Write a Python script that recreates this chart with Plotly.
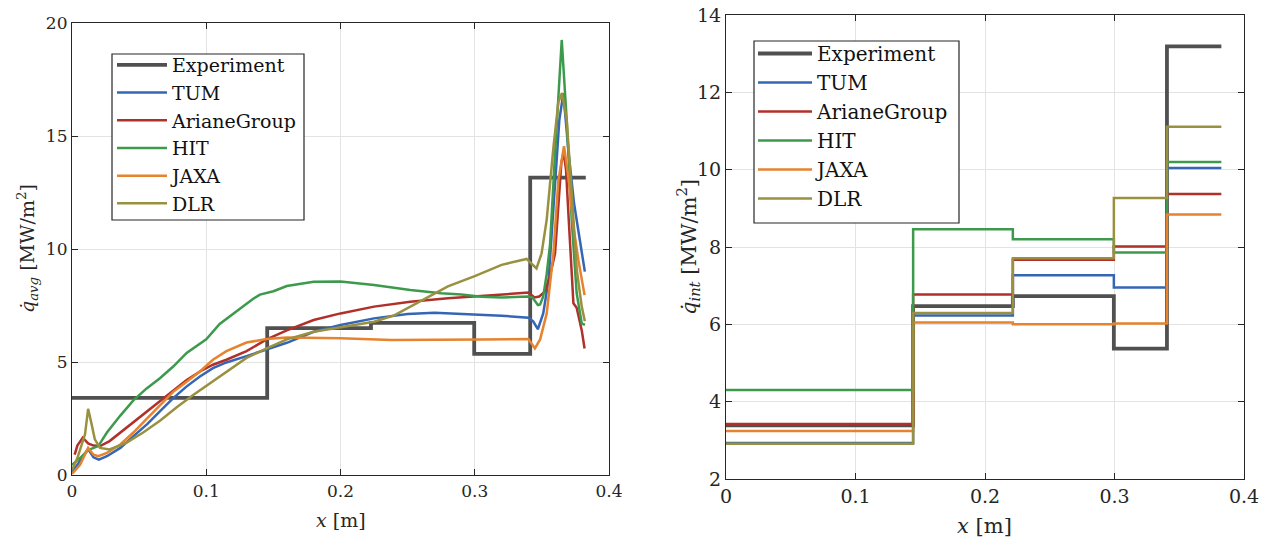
import plotly.graph_objects as go

# ---------------- data: left plot (local average heat flux) ----------------
exp_x = [0, 0.1454, 0.2227, 0.2996, 0.3413, 0.3827]
exp_y = [3.41, 6.50, 6.73, 5.36, 13.16, 13.16]

tum_x = [0, 0.006, 0.012, 0.016, 0.02, 0.026, 0.036, 0.046, 0.056, 0.066, 0.075, 0.085, 0.095,
         0.105, 0.115, 0.13, 0.145, 0.16, 0.18, 0.2, 0.225, 0.25, 0.27, 0.3, 0.32, 0.34, 0.3435,
         0.347, 0.351, 0.355, 0.359, 0.363, 0.366, 0.370, 0.374, 0.378, 0.382]
tum_y = [0.1, 0.6, 1.15, 0.78, 0.68, 0.83, 1.2, 1.73, 2.25, 2.85, 3.38, 3.9, 4.35,
         4.73, 4.98, 5.26, 5.55, 5.85, 6.34, 6.64, 6.93, 7.12, 7.18, 7.1, 7.05, 6.96, 6.8,
         6.45, 7.15, 8.63, 12.0, 15.7, 16.9, 14.2, 12.0, 10.5, 9.0]

ag_x = [0.002, 0.004, 0.008, 0.012, 0.016, 0.021, 0.028, 0.0407, 0.053, 0.0655, 0.0754, 0.0854,
        0.0953, 0.105, 0.115, 0.13, 0.145, 0.16, 0.18, 0.2, 0.225, 0.252, 0.28, 0.305, 0.325,
        0.34, 0.3445, 0.348, 0.352, 0.356, 0.3598, 0.3623, 0.3645, 0.3662, 0.368, 0.370, 0.3735,
        0.3759, 0.3797, 0.3818]
ag_y = [0.9, 1.3, 1.65, 1.4, 1.3, 1.28, 1.5, 2.1, 2.7, 3.3, 3.75, 4.2,
        4.58, 4.88, 5.1, 5.48, 6.0, 6.4, 6.86, 7.15, 7.45, 7.67, 7.82, 7.92, 8.0,
        8.07, 7.86, 7.9, 8.1, 8.8, 9.8, 12.0, 13.8, 14.3, 13.5, 11.3, 7.6,
        7.4, 6.4, 5.6]

hit_x = [0, 0.006, 0.012, 0.0196, 0.026, 0.036, 0.0457, 0.0556, 0.0655, 0.0754, 0.0854, 0.0953,
         0.1, 0.11, 0.125, 0.135, 0.14, 0.15, 0.16, 0.18, 0.2, 0.225, 0.252, 0.275, 0.29, 0.305,
         0.32, 0.34, 0.343, 0.347, 0.3487, 0.351, 0.3536, 0.3561, 0.3598, 0.3648, 0.3685, 0.3722,
         0.3759, 0.3797, 0.3821]
hit_y = [0.45, 0.75, 1.1, 1.28, 1.88, 2.63, 3.3, 3.83, 4.28, 4.8, 5.4, 5.78,
         6.0, 6.68, 7.36, 7.8, 7.98, 8.13, 8.36, 8.55, 8.56, 8.41, 8.19, 8.04, 7.99, 7.89,
         7.85, 7.9, 7.85, 7.52, 7.55, 7.9, 8.9, 10.2, 14.2, 19.25, 15.7, 11.3,
         8.05, 6.7, 6.65]

jaxa_x = [0, 0.006, 0.012, 0.016, 0.0196, 0.026, 0.036, 0.0457, 0.0556, 0.0655, 0.0754, 0.0854,
          0.0953, 0.105, 0.115, 0.13, 0.145, 0.16, 0.18, 0.2, 0.238, 0.277, 0.305, 0.34, 0.3448,
          0.3487, 0.3536, 0.3586, 0.3623, 0.3665, 0.370, 0.3735, 0.3772, 0.3818]
jaxa_y = [0.05, 0.45, 1.2, 0.9, 0.83, 0.98, 1.35, 1.88, 2.48, 3.08, 3.68, 4.13,
          4.58, 5.1, 5.48, 5.86, 6.02, 6.08, 6.07, 6.05, 5.97, 5.97, 6.0, 6.02, 5.6,
          6.0, 7.15, 9.8, 13.05, 14.55, 13.05, 11.0, 9.5, 7.96]

dlr_x = [0, 0.004, 0.0097, 0.012, 0.0146, 0.017, 0.0209, 0.028, 0.0407, 0.053, 0.0655, 0.078,
         0.09, 0.1027, 0.115, 0.13, 0.145, 0.16, 0.18, 0.2, 0.225, 0.24, 0.26, 0.28, 0.3, 0.32,
         0.3386, 0.346, 0.3498, 0.3536, 0.3586, 0.3623, 0.365, 0.3685, 0.3722, 0.376, 0.3797, 0.382]
dlr_y = [0.22, 0.75, 1.8, 2.93, 2.25, 1.58, 1.2, 1.13, 1.43, 1.88, 2.4, 3.0,
         3.53, 4.05, 4.58, 5.18, 5.6, 6.0, 6.34, 6.53, 6.78, 7.06, 7.7, 8.35, 8.8, 9.3,
         9.56, 9.14, 9.81, 11.3, 14.5, 16.5, 16.9, 15.7, 12.5, 9.07, 7.45, 6.8]

# ---------------- data: right plot (integrated heat flux per segment) ----------------
seg_x = [0, 0.1445, 0.2215, 0.2995, 0.3405, 0.3825]
int_exp = [3.39, 6.47, 6.73, 5.37, 13.19]
int_tum = [2.93, 6.23, 7.27, 6.95, 10.04]
int_ag = [3.42, 6.77, 7.67, 8.01, 9.37]
int_hit = [4.30, 8.46, 8.20, 7.86, 10.20]
int_jaxa = [3.24, 6.05, 6.00, 6.02, 8.84]
int_dlr = [2.91, 6.29, 7.71, 9.27, 11.11]

names = ["Experiment", "TUM", "ArianeGroup", "HIT", "JAXA", "DLR"]
colors = ["#505050", "#3566b5", "#b0302a", "#3d9a4d", "#e5832f", "#9a9140"]
widths = [3.8, 2.5, 2.5, 2.5, 2.5, 2.5]

SERIF = "DejaVu Serif"

# the page's body margin is removed by a post script, so the figure fills the window
W, H = 1270, 548


def px(xr):
    return xr / W


def py(yr):
    return 1 - yr / H


fig = go.Figure()

left_series = [(exp_x, exp_y), (tum_x, tum_y), (ag_x, ag_y), (hit_x, hit_y), (jaxa_x, jaxa_y), (dlr_x, dlr_y)]
for i, (xs, ys) in enumerate(left_series):
    fig.add_trace(go.Scatter(
        x=xs, y=ys, mode="lines", name=names[i],
        line=dict(color=colors[i], width=widths[i], shape="hv" if i == 0 else "linear"),
        xaxis="x", yaxis="y", legend="legend",
    ))

right_series = [int_exp, int_tum, int_ag, int_hit, int_jaxa, int_dlr]
for i, vals in enumerate(right_series):
    fig.add_trace(go.Scatter(
        x=seg_x, y=vals + [vals[-1]], mode="lines", name=names[i],
        line=dict(color=colors[i], width=widths[i], shape="hv"),
        xaxis="x2", yaxis="y2", legend="legend2",
    ))

# plot-area pixel boxes (reference coordinates)
L = dict(x0=72, x1=609, y0=23, y1=475)
R = dict(x0=726, x1=1244, y0=15, y1=479)


def axis_common(size):
    return dict(
        showline=True, linecolor="#262626", linewidth=1.2, mirror="ticks",
        ticks="inside", ticklen=6, tickcolor="#262626", tickwidth=1.2,
        showgrid=True, gridcolor="#e3e3e3", gridwidth=1,
        zeroline=False, automargin=False, ticklabeloverflow="allow",
        tickfont=dict(family=SERIF, size=size, color="#262626"),
    )


fig.update_layout(
    width=W, height=H,
    margin=dict(l=0, r=0, t=0, b=0),
    paper_bgcolor="white", plot_bgcolor="white",
    xaxis=dict(domain=[px(L["x0"]), px(L["x1"])], range=[0, 0.4], dtick=0.1, anchor="y",
               **axis_common(17)),
    yaxis=dict(domain=[py(L["y1"]), py(L["y0"])], range=[0, 20], dtick=5, anchor="x",
               **axis_common(17)),
    xaxis2=dict(domain=[px(R["x0"]), px(R["x1"])], range=[0, 0.4], dtick=0.1, anchor="y2",
                **axis_common(19)),
    yaxis2=dict(domain=[py(R["y1"]), py(R["y0"])], range=[2, 14], dtick=2, anchor="x2",
                **axis_common(19)),
    legend=dict(x=px(112), y=py(46), xanchor="left", yanchor="top",
                bgcolor="rgba(0,0,0,0)", borderwidth=0,
                font=dict(family=SERIF, size=19, color="#111111"),
                itemwidth=50, tracegroupgap=0),
    legend2=dict(x=px(753), y=py(34), xanchor="left", yanchor="top",
                 bgcolor="rgba(0,0,0,0)", borderwidth=0,
                 font=dict(family=SERIF, size=20, color="#111111"),
                 itemwidth=54, tracegroupgap=0),
    showlegend=True,
)

# legend frames
fig.add_shape(type="rect", xref="paper", yref="paper", layer="above",
              x0=px(112), x1=px(304), y0=py(220), y1=py(54),
              line=dict(color="#262626", width=1.2), fillcolor="white")
fig.add_shape(type="rect", xref="paper", yref="paper", layer="above",
              x0=px(754), x1=px(959), y0=py(223), y1=py(41),
              line=dict(color="#262626", width=1.2), fillcolor="white")

ann_font_l = dict(family=SERIF, size=19, color="#262626")
ann_font_r = dict(family=SERIF, size=21, color="#262626")
fig.add_annotation(text="<i>x</i> [m]", xref="paper", yref="paper",
                   x=px((L["x0"] + L["x1"]) / 2), y=py(520), showarrow=False,
                   font=ann_font_l, xanchor="center", yanchor="middle")
fig.add_annotation(text="<i>x</i> [m]", xref="paper", yref="paper",
                   x=px((R["x0"] + R["x1"]) / 2), y=py(526), showarrow=False,
                   font=ann_font_r, xanchor="center", yanchor="middle")
fig.add_annotation(text="<i>q\u0307</i><sub><i>avg</i></sub> [MW/m<sup>2</sup>]", xref="paper", yref="paper",
                   x=px(28), y=py(249), showarrow=False, textangle=-90,
                   font=ann_font_l, xanchor="center", yanchor="middle")
fig.add_annotation(text="<i>q\u0307</i><sub><i>int</i></sub> [MW/m<sup>2</sup>]", xref="paper", yref="paper",
                   x=px(688), y=py(247), showarrow=False, textangle=-90,
                   font=ann_font_r, xanchor="center", yanchor="middle")

fig.write_html("out.html", config={"displayModeBar": False},
               post_script="document.body.style.margin='0px';document.body.style.overflow='hidden';")
